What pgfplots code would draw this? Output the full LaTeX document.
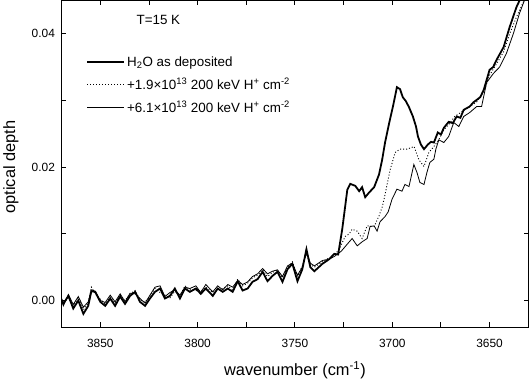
\documentclass[border=0pt]{standalone}
\usepackage{fontspec}
\setmainfont{Liberation Sans}
\usepackage{pgfplots}
\pgfplotsset{compat=1.18}
\usepackage{pgfplotstable}

% spectra: wavenumber (cm^-1), optical depth
\pgfplotstableread{
wn od
3870.0 0.0002
3869.0 -0.0005
3866.4 0.0007
3863.9 -0.0012
3861.3 0.0000
3858.7 -0.0020
3856.2 -0.0008
3854.6 0.0014
3852.6 0.0013
3850.0 -0.0002
3847.5 -0.0008
3844.9 0.0003
3842.4 -0.0008
3839.8 0.0006
3837.3 -0.0005
3834.7 0.0007
3832.1 0.0013
3829.6 -0.0002
3827.0 -0.0008
3824.5 0.0003
3821.9 0.0013
3819.3 0.0018
3816.8 0.0003
3814.2 0.0007
3811.7 0.0018
3809.1 0.0003
3806.5 0.0018
3804.0 0.0013
3800.9 0.0018
3798.4 0.0010
3795.8 0.0018
3792.2 0.0007
3789.7 0.0018
3787.1 0.0013
3784.5 0.0018
3782.0 0.0013
3779.4 0.0029
3776.9 0.0015
3774.3 0.0018
3771.8 0.0028
3769.2 0.0032
3766.6 0.0043
3764.1 0.0029
3761.5 0.0037
3759.0 0.0043
3756.4 0.0028
3753.8 0.0047
3751.3 0.0055
3748.7 0.0029
3746.2 0.0047
3744.1 0.0077
3742.1 0.0050
3740.0 0.0044
3735.9 0.0055
3732.4 0.0062
3729.8 0.0070
3727.8 0.0069
3725.7 0.0107
3723.1 0.0166
3721.6 0.0175
3719.0 0.0172
3717.0 0.0164
3715.5 0.0170
3713.9 0.0155
3711.9 0.0162
3709.3 0.0170
3706.8 0.0189
3705.2 0.0211
3703.7 0.0237
3701.6 0.0266
3699.5 0.0293
3697.6 0.0320
3696.0 0.0317
3694.6 0.0305
3693.0 0.0299
3691.4 0.0290
3689.4 0.0276
3687.8 0.0261
3686.8 0.0246
3685.3 0.0234
3683.7 0.0227
3681.7 0.0234
3680.1 0.0238
3678.6 0.0237
3676.6 0.0252
3675.0 0.0249
3673.5 0.0259
3671.0 0.0268
3668.9 0.0266
3666.9 0.0276
3665.0 0.0274
3663.3 0.0286
3660.2 0.0291
3658.4 0.0297
3656.6 0.0301
3654.8 0.0305
3653.0 0.0316
3650.0 0.0346
3648.2 0.0350
3646.4 0.0361
3642.8 0.0380
3639.7 0.0410
3636.2 0.0440
3634.6 0.0450
3630.0 0.0480
}\asdeposited

\pgfplotstableread{
wn od
3870.0 0.0000
3869.0 -0.0003
3866.4 0.0004
3863.9 -0.0008
3861.3 0.0004
3858.7 -0.0014
3856.2 -0.0004
3854.6 0.0020
3852.6 0.0010
3850.0 0.0002
3847.5 -0.0005
3844.9 0.0005
3842.4 -0.0004
3839.8 0.0008
3837.3 0.0000
3834.7 0.0010
3832.1 0.0015
3829.6 0.0001
3827.0 -0.0002
3824.5 0.0006
3821.9 0.0018
3819.3 0.0012
3816.8 0.0008
3814.2 0.0004
3811.7 0.0014
3809.1 0.0007
3806.5 0.0022
3804.0 0.0016
3800.9 0.0015
3798.4 0.0014
3795.8 0.0020
3792.2 0.0012
3789.7 0.0016
3787.1 0.0018
3784.5 0.0022
3782.0 0.0016
3779.4 0.0032
3776.9 0.0022
3774.3 0.0026
3771.8 0.0034
3769.2 0.0038
3766.6 0.0046
3764.1 0.0036
3761.5 0.0042
3759.0 0.0046
3756.4 0.0034
3753.8 0.0050
3751.3 0.0058
3748.7 0.0036
3746.2 0.0052
3744.1 0.0070
3742.1 0.0054
3740.0 0.0050
3735.9 0.0058
3732.4 0.0064
3729.8 0.0068
3727.2 0.0077
3724.2 0.0096
3722.1 0.0100
3720.6 0.0107
3718.0 0.0104
3715.5 0.0093
3712.9 0.0112
3709.3 0.0111
3706.8 0.0127
3705.2 0.0140
3704.2 0.0152
3701.1 0.0196
3698.5 0.0222
3696.0 0.0227
3692.4 0.0227
3688.8 0.0231
3686.3 0.0211
3683.7 0.0201
3681.2 0.0222
3678.6 0.0231
3676.1 0.0241
3673.5 0.0256
3670.4 0.0266
3667.9 0.0276
3665.3 0.0281
3662.8 0.0286
3660.2 0.0291
3656.6 0.0298
3653.0 0.0313
3650.0 0.0338
3646.4 0.0355
3642.8 0.0373
3639.7 0.0400
3636.2 0.0425
3633.1 0.0445
3630.0 0.0465
}\lowdose

\pgfplotstableread{
wn od
3870.0 0.0004
3869.0 -0.0008
3866.4 0.0009
3863.9 -0.0006
3861.3 0.0006
3858.7 -0.0010
3856.2 -0.0002
3854.6 0.0016
3852.6 0.0014
3850.0 0.0000
3847.5 -0.0003
3844.9 0.0008
3842.4 -0.0002
3839.8 0.0010
3837.3 -0.0002
3834.7 0.0011
3832.1 0.0010
3829.6 0.0003
3827.0 -0.0004
3824.5 0.0008
3821.9 0.0020
3819.3 0.0022
3816.8 0.0006
3814.2 0.0012
3811.7 0.0016
3809.1 0.0008
3806.5 0.0020
3804.0 0.0018
3800.9 0.0022
3798.4 0.0012
3795.8 0.0024
3792.2 0.0013
3789.7 0.0022
3787.1 0.0016
3784.5 0.0024
3782.0 0.0020
3779.4 0.0030
3776.9 0.0024
3774.3 0.0028
3771.8 0.0036
3769.2 0.0040
3766.6 0.0048
3764.1 0.0040
3761.5 0.0044
3759.0 0.0046
3756.4 0.0036
3753.8 0.0052
3751.3 0.0056
3748.7 0.0038
3746.2 0.0050
3744.1 0.0074
3742.1 0.0056
3740.0 0.0052
3735.9 0.0060
3732.4 0.0062
3729.8 0.0066
3726.2 0.0074
3722.1 0.0088
3720.6 0.0093
3718.0 0.0082
3715.5 0.0088
3712.9 0.0093
3711.4 0.0111
3709.3 0.0112
3707.8 0.0104
3706.3 0.0118
3703.7 0.0126
3702.1 0.0133
3700.1 0.0152
3697.6 0.0167
3695.0 0.0164
3693.5 0.0174
3691.4 0.0171
3688.9 0.0204
3687.3 0.0192
3685.8 0.0177
3683.7 0.0174
3682.2 0.0192
3680.7 0.0207
3678.6 0.0212
3677.6 0.0227
3676.1 0.0241
3673.5 0.0237
3671.0 0.0246
3668.4 0.0267
3665.8 0.0261
3663.3 0.0276
3660.2 0.0282
3656.6 0.0291
3654.1 0.0291
3651.5 0.0327
3647.9 0.0341
3644.9 0.0350
3641.3 0.0371
3637.7 0.0401
3634.6 0.0431
3632.1 0.0450
3630.0 0.0462
}\highdose

\begin{document}
\begin{tikzpicture}
\begin{axis}[
    scale only axis,
    width=469bp, height=328bp,
    x dir=reverse,
    xmin=3630, xmax=3870,
    ymin=-0.004, ymax=0.045,
    xtick={3650,3700,3750,3800,3850},
    ytick={0,0.02,0.04},
    scaled y ticks=false,
    minor x tick num=1,
    minor y tick num=1,
    tick align=inside,
    major tick length=5bp,
    minor tick length=5bp,
    axis line style={line width=1bp},
    every tick/.style={black, line width=0.9bp},
    /pgf/number format/assume math mode=true,
    x tick label style={font=\fontsize{12}{14}\selectfont, yshift=-9bp, /pgf/number format/1000 sep={}},
    y tick label style={font=\fontsize{12}{14}\selectfont, xshift=-3bp,
        /pgf/number format/fixed, /pgf/number format/fixed zerofill,
        /pgf/number format/precision=2},
    xlabel={wavenumber (cm\textsuperscript{-1})},
    ylabel={optical depth},
    label style={font=\fontsize{16.5}{19}\selectfont},
    xlabel style={at={(axis description cs:0.5,-0.131)}, anchor=center},
    ylabel style={at={(axis description cs:-0.108,0.49)}, anchor=center},
    legend style={draw=none, fill=none, font=\fontsize{13.5}{15}\selectfont,
        at={(axis description cs:0.047,0.841)}, anchor=north west, row sep=6bp},
    legend cell align=left,
    legend image code/.code={\draw[#1] (0bp,0bp) -- (37bp,0bp);},
]
\addplot[black, line width=1.8bp] table[x=wn, y=od] {\asdeposited};
\addlegendentry{H\textsubscript{2}O as deposited}
\addplot[black, line width=0.9bp, dash pattern=on 1bp off 2bp] table[x=wn, y=od] {\lowdose};
\addlegendentry{+1.9×10\textsuperscript{13} 200 keV H\textsuperscript{+} cm\textsuperscript{-2}}
\addplot[black, line width=0.8bp] table[x=wn, y=od] {\highdose};
\addlegendentry{+6.1×10\textsuperscript{13} 200 keV H\textsuperscript{+} cm\textsuperscript{-2}}
\node[anchor=west, font=\fontsize{13.5}{15}\selectfont] at (axis description cs:0.1535,0.939) {T=15 K};
\path (axis description cs:1.0043,1) -- (axis description cs:1.0043,0);
\end{axis}
\end{tikzpicture}
\end{document}
